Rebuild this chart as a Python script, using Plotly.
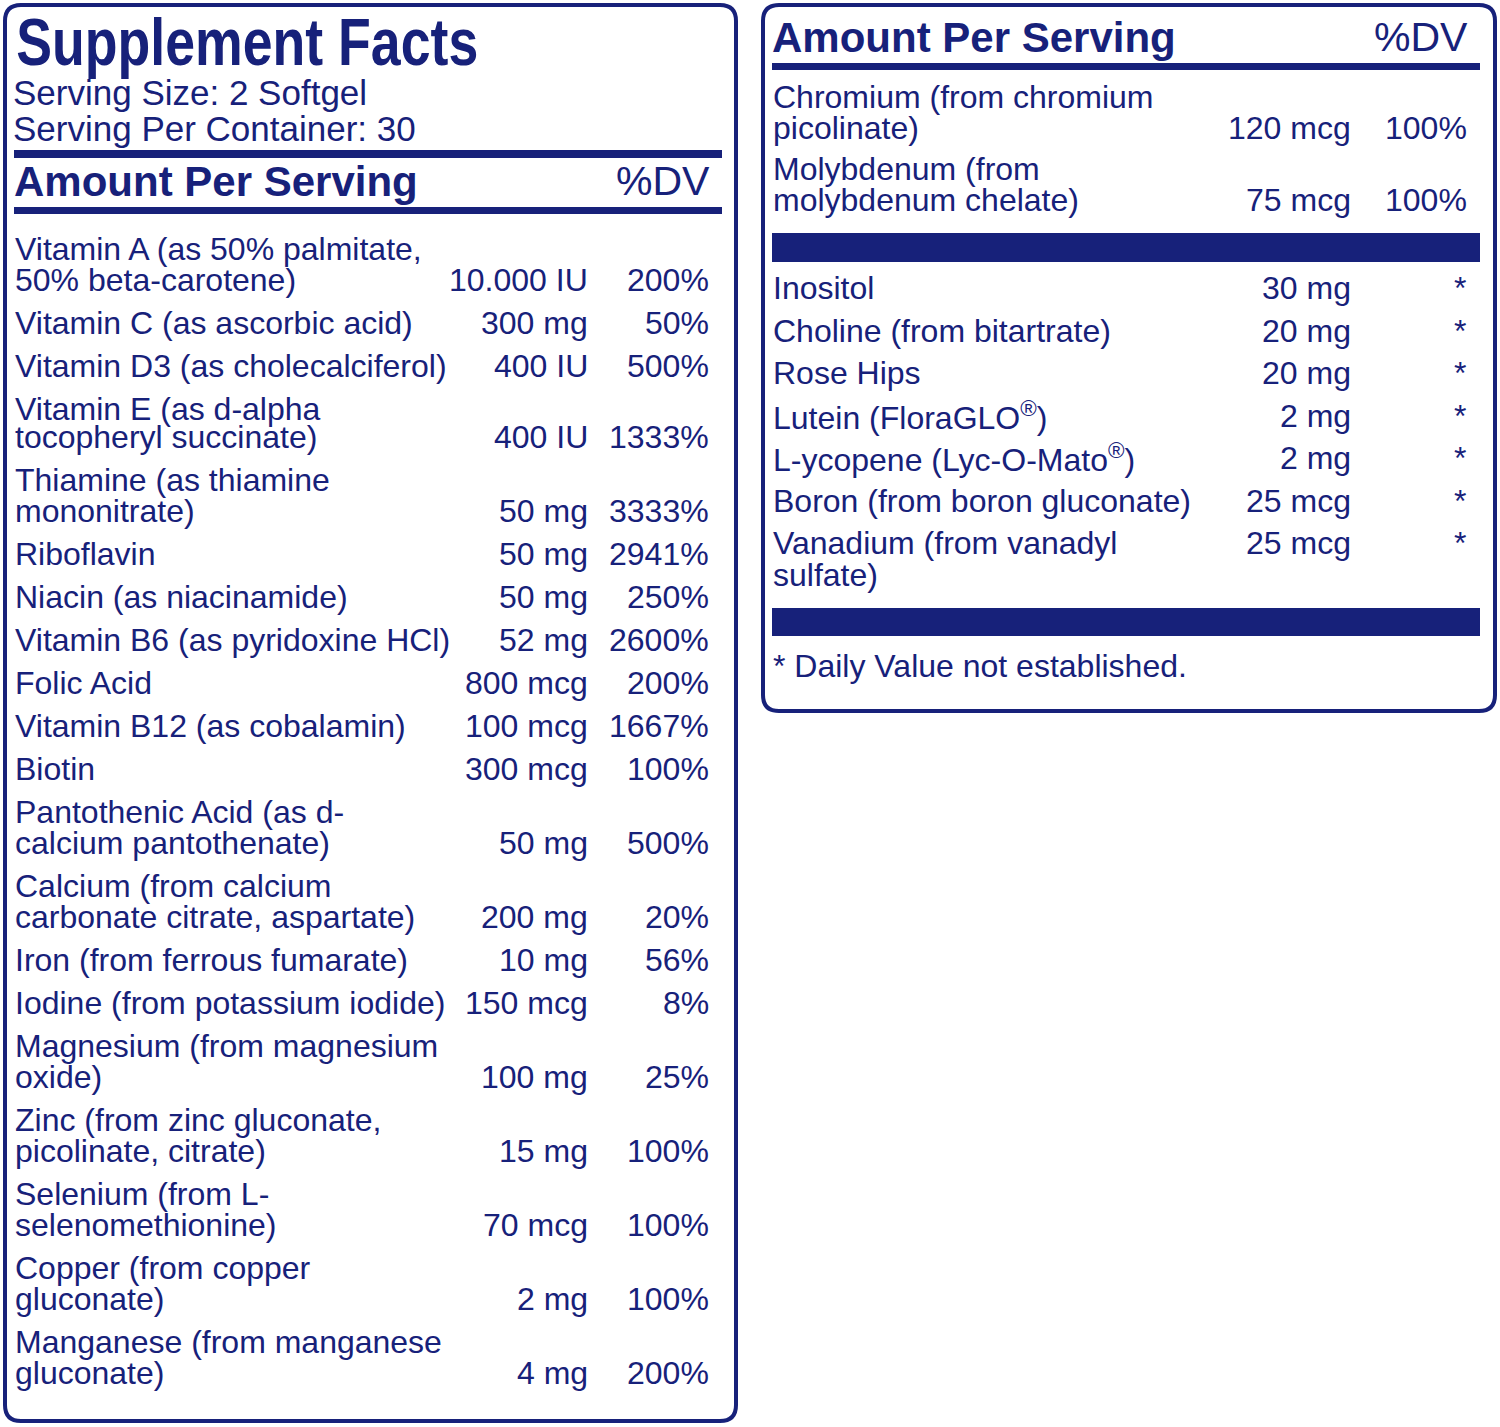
import plotly.graph_objects as go

NAVY = "#17217a"
BODY_FONT = "Liberation Sans, Arial, Helvetica, sans-serif"

# left panel rows: name lines, amount, %DV
left_names = [
    ["Vitamin A (as 50% palmitate,", "50% beta-carotene)"],
    ["Vitamin C (as ascorbic acid)"],
    ["Vitamin D3 (as cholecalciferol)"],
    ["Vitamin E (as d-alpha", "tocopheryl succinate)"],
    ["Thiamine (as thiamine", "mononitrate)"],
    ["Riboflavin"],
    ["Niacin (as niacinamide)"],
    ["Vitamin B6 (as pyridoxine HCl)"],
    ["Folic Acid"],
    ["Vitamin B12 (as cobalamin)"],
    ["Biotin"],
    ["Pantothenic Acid (as d-", "calcium pantothenate)"],
    ["Calcium (from calcium", "carbonate citrate, aspartate)"],
    ["Iron (from ferrous fumarate)"],
    ["Iodine (from potassium iodide)"],
    ["Magnesium (from magnesium", "oxide)"],
    ["Zinc (from zinc gluconate,", "picolinate, citrate)"],
    ["Selenium (from L-", "selenomethionine)"],
    ["Copper (from copper", "gluconate)"],
    ["Manganese (from manganese", "gluconate)"],
]
left_amounts = ["10.000 IU", "300 mg", "400 IU", "400 IU", "50 mg", "50 mg", "50 mg",
                "52 mg", "800 mcg", "100 mcg", "300 mcg", "50 mg", "200 mg", "10 mg",
                "150 mcg", "100 mg", "15 mg", "70 mcg", "2 mg", "4 mg"]
left_dv = ["200%", "50%", "500%", "1333%", "3333%", "2941%", "250%", "2600%", "200%",
           "1667%", "100%", "500%", "20%", "56%", "8%", "25%", "100%", "100%", "100%", "200%"]

# right panel, first block (with established DV)
right_names_a = [
    ["Chromium (from chromium", "picolinate)"],
    ["Molybdenum (from", "molybdenum chelate)"],
]
right_amounts_a = ["120 mcg", "75 mcg"]
right_dv_a = ["100%", "100%"]

# right panel, second block (DV not established)
right_names_b = [
    ["Inositol"],
    ["Choline (from bitartrate)"],
    ["Rose Hips"],
    ["Lutein (FloraGLO<sup>®</sup>)"],
    ["L-ycopene (Lyc-O-Mato<sup>®</sup>)"],
    ["Boron (from boron gluconate)"],
    ["Vanadium (from vanadyl", "sulfate)"],
]
right_amounts_b = ["30 mg", "20 mg", "20 mg", "2 mg", "2 mg", "25 mcg", "25 mcg"]
right_dv_b = ["*"] * len(right_names_b)

annotations = []
shapes = []


def text(x, y, s, size=32, anchor="left", weight="normal"):
    annotations.append(dict(
        x=x, y=y, xref="x", yref="y", text=s, showarrow=False,
        xanchor=anchor, yanchor="middle",
        font=dict(family=BODY_FONT, size=size, color=NAVY, weight=weight),
    ))


def rounded_box(x0, y0, x1, y1, r=16, w=4):
    path = (f"M {x0 + r},{y0} L {x1 - r},{y0} Q {x1},{y0} {x1},{y0 + r} "
            f"L {x1},{y1 - r} Q {x1},{y1} {x1 - r},{y1} "
            f"L {x0 + r},{y1} Q {x0},{y1} {x0},{y1 - r} "
            f"L {x0},{y0 + r} Q {x0},{y0} {x0 + r},{y0} Z")
    shapes.append(dict(type="path", path=path, xref="x", yref="y",
                       line=dict(color=NAVY, width=w), fillcolor="rgba(0,0,0,0)"))


def bar(x0, y0, x1, y1):
    shapes.append(dict(type="rect", x0=x0, x1=x1, y0=y0, y1=y1, xref="x", yref="y",
                       line=dict(width=0), fillcolor=NAVY))


def rows(names, amounts, dvs, y, x_name, x_amt, x_dv, line_gap, row_gap,
         amount_on_last=True, gap_override=None):
    gap_override = gap_override or {}
    for k, (lines, amt, dv) in enumerate(zip(names, amounts, dvs)):
        lg = gap_override.get(k, line_gap)
        for i, ln in enumerate(lines):
            text(x_name, y + i * lg, ln)
        ya = y + (len(lines) - 1) * lg if amount_on_last else y
        text(x_amt, ya, amt, anchor="right")
        text(x_dv, ya, dv, anchor="right")
        y = y + (len(lines) - 1) * lg + row_gap


# left panel
rounded_box(5, 5, 736, 1421)
# title is condensed afterwards in the page (no narrow font available)
text(247, 42, "Supplement Facts", size=66, anchor="center", weight="bold")
text(11, 92, "Serving Size: 2 Softgel", size=35)
text(11, 128, "Serving Per Container: 30", size=35)
bar(14, 150, 722, 158)
text(12, 181, "Amount Per Serving", size=42, weight="bold")
text(712, 181, "%DV", size=41, anchor="right")
bar(14, 207, 722, 214)
rows(left_names, left_amounts, left_dv, 249, 13, 590, 711, 31, 43, gap_override={3: 28})

# right panel
rounded_box(763, 5, 1495, 711)
text(770, 37, "Amount Per Serving", size=42, weight="bold")
text(1470, 37, "%DV", size=41, anchor="right")
bar(772, 63, 1480, 70)
rows(right_names_a, right_amounts_a, right_dv_a, 97, 771, 1353, 1469, 31, 41)
bar(772, 233, 1480, 262)
rows(right_names_b, right_amounts_b, right_dv_b, 288, 771, 1353, 1468, 32, 42.5,
     amount_on_last=False)
bar(772, 608, 1480, 636)
text(771, 666, "* Daily Value not established.", size=32)

fig = go.Figure()
fig.update_layout(
    width=1500, height=1427,
    margin=dict(l=0, r=0, t=0, b=0),
    paper_bgcolor="white", plot_bgcolor="white",
    xaxis=dict(range=[0, 1500], visible=False, fixedrange=True),
    yaxis=dict(range=[1427, 0], visible=False, fixedrange=True),
    annotations=annotations, shapes=shapes, showlegend=False,
)

post = """
document.body.style.margin = '0';
document.body.style.overflow = 'hidden';
document.querySelectorAll('.annotation-text').forEach(function (e) {
    if (e.textContent === 'Supplement Facts') {
        e.setAttribute('textLength', '462');
        e.setAttribute('lengthAdjust', 'spacingAndGlyphs');
    }
});
"""
fig.write_html("out.html", post_script=post, config={"displayModeBar": False})
